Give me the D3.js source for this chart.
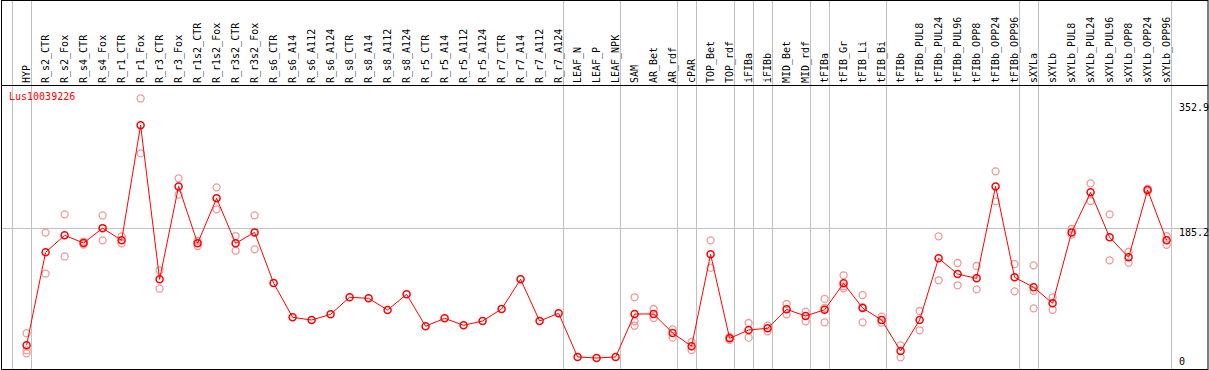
<!DOCTYPE html>
<html>
<head>
<meta charset="utf-8">
<script src="https://cdn.jsdelivr.net/npm/d3@7"></script>
<style>
    body { margin: 0; background: #fff; }
    text { font-family: "DejaVu Sans Mono", monospace; font-size: 10px; }
</style>
</head>
<body>
<svg id="chart" width="1209" height="370"></svg>
<script>
(function()
{
    "use strict";

    // #########################################################################
    var title = "Lus10039226";

    var categories = [
        "HYP", "R_s2_CTR", "R_s2_Fox", "R_s4_CTR", "R_s4_Fox", "R_r1_CTR", "R_r1_Fox",
        "R_r3_CTR", "R_r3_Fox", "R_r1s2_CTR", "R_r1s2_Fox", "R_r3s2_CTR", "R_r3s2_Fox",
        "R_s6_CTR", "R_s6_A14", "R_s6_A112", "R_s6_A124", "R_s8_CTR", "R_s8_A14",
        "R_s8_A112", "R_s8_A124", "R_r5_CTR", "R_r5_A14", "R_r5_A112", "R_r5_A124",
        "R_r7_CTR", "R_r7_A14", "R_r7_A112", "R_r7_A124", "LEAF_N", "LEAF_P", "LEAF_NPK",
        "SAM", "AR_Bet", "AR_rdf", "cPAR", "TOP_Bet", "TOP_rdf", "iFIBa", "iFIBb",
        "MID_Bet", "MID_rdf", "tFIBa", "tFIB_Gr", "tFIB_Li", "tFIB_Bi", "tFIBb",
        "tFIBb_PUL8", "tFIBb_PUL24", "tFIBb_PUL96", "tFIBb_OPP8", "tFIBb_OPP24", "tFIBb_OPP96",
        "sXYLa", "sXYLb", "sXYLb_PUL8", "sXYLb_PUL24", "sXYLb_PUL96", "sXYLb_OPP8",
        "sXYLb_OPP24", "sXYLb_OPP96"
    ];

    var means = [
        28, 152.5, 175.3, 165, 185, 168.6, 323, 116.3, 241, 164.6, 225, 164.6, 179.3,
        111.3, 65.3, 61.7, 69.3, 92.2, 90.8, 75.1, 96.2, 53.3, 64, 54.6, 60.4,
        76.5, 116.3, 60.4, 70.7, 12.1, 10.7, 12.1,
        69.8, 69.8, 44.3, 26.4, 149.8, 37.1, 48.3, 50.6, 76, 67.1, 75.5, 110.9, 77.8, 61.7,
        20.1, 61.7, 144.5, 123.4, 117.6, 241, 119,
        105.6, 84.1, 179.3, 233, 172.7, 145.8, 236.1, 168.6
    ];

    // replicate values (pale circles), one list per category
    var replicates = [
        [44, 21, 17], [179, 124], [203.5, 147], [163, 167], [202, 168.6], [174, 164.6],
        [359, 285.3], [128.4, 103.7], [251.8, 229.9], [167.7, 161], [239.7, 210.2],
        [174.4, 154.7], [202.2, 156.5],
        [], [], [], [], [], [], [], [], [], [], [], [], [], [], [], [], [], [], [],
        [92.2, 60, 54], [76.5, 64.4], [49.2, 38], [32.2, 21.5], [168.6, 131.9], [35, 39],
        [57.7, 38], [54.1, 46.5], [83.2, 69.3], [72.9, 59.9], [90, 58.6, 78],
        [121.7, 104.2, 107], [95.2, 58.6, 79], [66.2, 58.1],
        [27.7, 11.6], [73.8, 47.9], [174, 115], [138.2, 108.3], [134.2, 102.9],
        [261.2, 220.9], [136.8, 100.2],
        [135.1, 77.4, 101], [92.2, 75.5], [183.8, 176.2], [245.1, 221.4], [203.5, 141.8],
        [153.3, 138.6], [238, 234], [174.4, 162.7]
    ];

    // a grey separator is drawn right after each of these category indexes
    var groupEnds = [-1, 0, 28, 31, 34, 35, 37, 38, 39, 41, 42, 45, 52, 53, 60];

    var yTicks = [0, 185.2, 352.9];
    var yMax = 352.9;
    // #########################################################################

    var W = 1209, H = 370;
    var headerY = 85;
    var grey = "#c0c0c0";

    var svg = d3.select("#chart");

    var xScale = d3.scaleLinear()
                   .domain([0, categories.length - 1])
                   .range([26.6, 26.6 + 19 * (categories.length - 1)]);

    var yScale = d3.scaleLinear()
                   .domain([0, yMax])
                   .range([366, 103]);

    var crisp = function(v) { return Math.round(v) + 0.5; };

    // #########################################################################
    // grid
    svg.selectAll("line.vgrid")
        .data(groupEnds)
      .enter().append("line")
        .attr("class", "vgrid")
        .attr("x1", function(d) { return crisp(xScale(d) + 4); })
        .attr("x2", function(d) { return crisp(xScale(d) + 4); })
        .attr("y1", 0)
        .attr("y2", H)
        .attr("stroke", grey)
        .attr("stroke-width", 1);

    svg.selectAll("line.hgrid")
        .data(yTicks.filter(function(t) { return t > 0 && t < yMax; }))
      .enter().append("line")
        .attr("class", "hgrid")
        .attr("x1", 1)
        .attr("x2", W - 1)
        .attr("y1", function(d) { return crisp(yScale(d)); })
        .attr("y2", function(d) { return crisp(yScale(d)); })
        .attr("stroke", grey);

    // header separator
    svg.append("line")
        .attr("x1", 1).attr("x2", W - 1)
        .attr("y1", headerY + 0.5).attr("y2", headerY + 0.5)
        .attr("stroke", "#000");

    // category labels, rotated
    svg.selectAll("text.cat")
        .data(categories)
      .enter().append("text")
        .attr("class", "cat")
        .attr("transform", function(d, i) {
            return `translate(${xScale(i) + 3.5},${headerY - 2}) rotate(-90)`;
        })
        .attr("fill", "#000")
        .text(function(d) { return d; });

    // right axis values
    svg.selectAll("text.ytick")
        .data(yTicks)
      .enter().append("text")
        .attr("class", "ytick")
        .attr("x", 1179)
        .attr("y", function(d) { return Math.min(yScale(d) + 8, 365); })
        .attr("fill", "#000")
        .text(function(d) { return d === 0 ? "0" : d.toFixed(1); });

    svg.append("text")
        .attr("x", 9)
        .attr("y", 100)
        .attr("fill", "#ff0000")
        .text(title);

    // #########################################################################
    // replicates
    var repPoints = [];
    replicates.forEach(function(list, i) {
        list.forEach(function(v) { repPoints.push({i: i, v: v}); });
    });

    svg.selectAll("circle.rep")
        .data(repPoints)
      .enter().append("circle")
        .attr("class", "rep")
        .attr("cx", function(d) { return xScale(d.i); })
        .attr("cy", function(d) { return yScale(d.v); })
        .attr("r", 3.5)
        .attr("fill", "none")
        .attr("stroke", "#ee9a9a")
        .attr("stroke-width", 1.3);

    var line = d3.line()
                 .x(function(d, i) { return xScale(i); })
                 .y(function(d) { return yScale(d); });

    svg.append("path")
        .datum(means)
        .attr("d", line)
        .attr("fill", "none")
        .attr("stroke", "#ff0000")
        .attr("stroke-width", 1);

    svg.selectAll("circle.mean")
        .data(means)
      .enter().append("circle")
        .attr("class", "mean")
        .attr("cx", function(d, i) { return xScale(i); })
        .attr("cy", function(d) { return yScale(d); })
        .attr("r", 3.5)
        .attr("fill", "none")
        .attr("stroke", "#ff0000")
        .attr("stroke-width", 1.5);

    // frame
    svg.append("rect")
        .attr("x", 1.5).attr("y", 0.5)
        .attr("width", W - 2.5).attr("height", H - 1)
        .attr("fill", "none")
        .attr("stroke", "#000");
}
)();
</script>
</body>
</html>
